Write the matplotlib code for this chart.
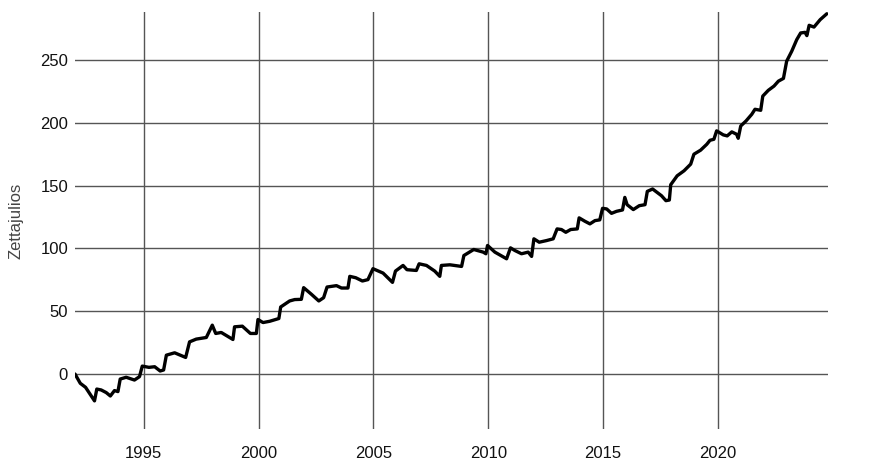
import matplotlib
matplotlib.use("Agg")
import matplotlib.pyplot as plt

years = [1992.00, 1992.23, 1992.46, 1992.85, 1992.95, 1993.14, 1993.36, 1993.54, 1993.72, 1993.87,
         1993.97, 1994.23, 1994.59, 1994.81, 1994.93, 1995.22, 1995.47, 1995.71, 1995.86, 1995.98,
         1996.34, 1996.82, 1996.99, 1997.28, 1997.72, 1997.98, 1998.13, 1998.37, 1998.88, 1998.95,
         1999.29, 1999.64, 1999.90, 1999.97, 2000.19, 2000.48, 2000.88, 2000.96, 2001.35, 2001.57,
         2001.86, 2001.96, 2002.30, 2002.62, 2002.83, 2002.98, 2003.39, 2003.61, 2003.89, 2003.97,
         2004.23, 2004.52, 2004.76, 2004.98, 2005.42, 2005.83, 2005.96, 2006.29, 2006.46, 2006.87,
         2006.99, 2007.31, 2007.67, 2007.89, 2007.96, 2008.33, 2008.84, 2008.94, 2009.37, 2009.78,
         2009.90, 2009.97, 2010.29, 2010.80, 2010.97, 2011.16, 2011.45, 2011.74, 2011.89, 2011.99,
         2012.22, 2012.54, 2012.83, 2013.00, 2013.19, 2013.38, 2013.59, 2013.88, 2013.96, 2014.21,
         2014.43, 2014.65, 2014.86, 2014.98, 2015.16, 2015.37, 2015.59, 2015.85, 2015.95, 2016.05,
         2016.32, 2016.58, 2016.83, 2016.93, 2017.16, 2017.55, 2017.74, 2017.89, 2017.95, 2018.23,
         2018.53, 2018.82, 2018.96, 2019.25, 2019.52, 2019.66, 2019.83, 2019.95, 2020.24, 2020.41,
         2020.61, 2020.82, 2020.89, 2021.00, 2021.23, 2021.48, 2021.62, 2021.87, 2021.96, 2022.20,
         2022.45, 2022.64, 2022.86, 2023.00, 2023.22, 2023.44, 2023.61, 2023.80, 2023.88, 2023.98,
         2024.19, 2024.46, 2024.75]

heat_zj = [0.0, -7.4, -10.6, -21.4, -12.0, -12.7, -14.8, -17.5, -13.2, -14.0,
           -4.0, -2.6, -4.8, -2.1, 6.3, 5.3, 5.8, 2.4, 3.2, 15.0,
           16.9, 13.2, 25.6, 27.8, 29.1, 38.9, 32.3, 33.1, 27.5, 37.6,
           38.1, 32.3, 32.3, 43.4, 41.0, 42.0, 44.2, 53.4, 58.2, 59.3,
           59.5, 68.8, 63.5, 58.2, 60.8, 69.3, 70.4, 68.5, 68.5, 77.8,
           76.7, 74.1, 75.2, 83.9, 80.4, 73.0, 82.0, 86.5, 83.1, 82.5,
           87.8, 86.5, 82.0, 77.8, 86.5, 87.0, 85.7, 94.4, 99.2, 97.1,
           95.8, 102.4, 97.1, 91.8, 100.5, 98.4, 95.8, 97.1, 93.7, 107.7,
           105.0, 106.3, 107.7, 115.6, 115.1, 112.9, 115.1, 115.6, 124.4, 121.7,
           119.6, 122.2, 122.8, 132.0, 131.5, 128.0, 129.6, 130.7, 140.7, 134.9,
           131.0, 134.1, 134.9, 145.5, 147.4, 142.0, 138.1, 138.6, 150.8, 157.9,
           161.9, 167.2, 175.1, 178.3, 183.0, 186.2, 187.0, 193.7, 190.5, 189.7,
           192.9, 191.0, 187.8, 197.6, 201.6, 206.9, 210.9, 210.1, 221.4, 226.0,
           229.4, 233.3, 235.5, 249.2, 257.1, 266.4, 271.7, 272.2, 269.6, 277.8,
           276.4, 282.3, 287.0]

x_ticks = [1995, 2000, 2005, 2010, 2015, 2020]
y_ticks = [0, 50, 100, 150, 200, 250]
y_label = "Zettajulios"

plt.rcParams['font.family'] = ['Liberation Sans', 'DejaVu Sans']

fig = plt.figure(figsize=(8.7, 4.67), dpi=100)
ax = fig.add_axes([0.0862, 0.0814, 0.8655, 0.8929])

ax.plot(years, heat_zj, color='black', lw=2.4, solid_joinstyle='round', solid_capstyle='round', zorder=3)

ax.set_xlim(1992.0, 2024.8)
ax.set_ylim(-43.8, 288.4)
ax.set_xticks(x_ticks)
ax.set_yticks(y_ticks)
ax.set_xticklabels([str(t) for t in x_ticks])
ax.set_yticklabels([str(t) for t in y_ticks])

ax.grid(True, color='#555555', lw=1.0)
ax.set_axisbelow(True)
for s in ax.spines.values():
    s.set_visible(False)
ax.tick_params(axis='both', length=0, labelsize=12, colors='#111111')
ax.tick_params(axis='x', pad=12)
ax.tick_params(axis='y', pad=5)

ax.set_ylabel(y_label, fontsize=12, color='#444444', labelpad=8)
ax.yaxis.set_label_coords(-0.068, 0.5)

fig.savefig('out.png', dpi=100)
